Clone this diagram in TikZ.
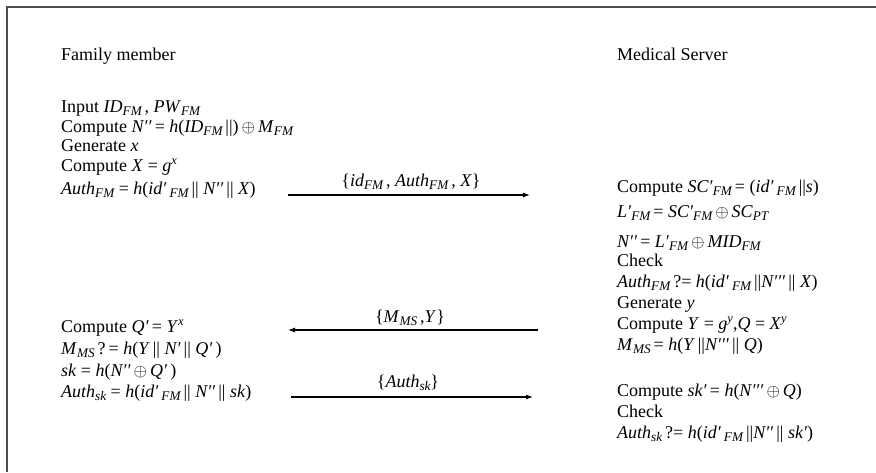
\documentclass[tikz,border=0pt]{standalone}
\usepackage{fontspec}
\setmainfont{Liberation Serif}
\usetikzlibrary{arrows.meta}
\newcommand{\iv}[1]{\textit{#1}}
\newcommand{\sbx}[1]{\raisebox{-3.8pt}{\fontsize{13.2}{13}\selectfont\itshape #1}}
\newcommand{\spx}[1]{\raisebox{7pt}{\fontsize{12.5}{12}\selectfont\itshape #1}}
\newcommand{\xo}{\,$\oplus$\,}
\newcommand{\pr}{′}
\tikzset{
  txt/.style={anchor=base west, inner sep=0pt, font=\fontsize{18}{21}\selectfont},
  lbl/.style={anchor=base, inner sep=0pt, font=\fontsize{18}{21}\selectfont},
  msg/.style={line width=1.1pt, -{Latex[length=7pt,width=5pt]}},
  frame/.style={black!70, line width=1.5pt}
}
\begin{document}
\begin{tikzpicture}[x=1pt,y=-1pt]
\useasboundingbox (0,0) rectangle (876,472);
\draw[frame] (7,472) -- (7,7) -- (876,7);
% left column
\node[txt] (fm) at (61,60) {Family member};
\node[txt] (l1) at (61,112) {Input \iv{ID}\sbx{FM}\,, \iv{PW}\sbx{FM}};
\node[txt] (l2) at (61,132) {Compute \iv{N\pr\pr}\,= \iv{h}(\iv{ID}\sbx{FM}\,||)\xo\iv{M}\sbx{FM}};
\node[txt] (l3) at (61,151) {Generate \iv{x}};
\node[txt] (l4) at (61,171) {Compute \iv{X} = \iv{g}\spx{x}};
\node[txt] (l5) at (61,194) {\iv{Auth}\sbx{FM} = \iv{h}(\iv{id\pr}\,\sbx{FM}\,||~\iv{N\pr\pr}\,||~\iv{X})};
\node[txt] (l6) at (61,332) {Compute \iv{Q\pr}\,= \iv{Y}\spx{x}};
\node[txt] (l7) at (61,354) {\iv{M}\sbx{MS}\,?\,= \iv{h}(\iv{Y}\,||~\iv{N\pr}\,||~\iv{Q\pr}\,)};
\node[txt] (l8) at (61,376) {\iv{sk} = \iv{h}(\iv{N\pr\pr}\xo\iv{Q\pr}\,)};
\node[txt] (l9) at (61,397) {\iv{Auth}\sbx{sk} = \iv{h}(\iv{id\pr}\,\sbx{FM}\,||~\iv{N\pr\pr}\,||~\iv{sk})};
% right column
\node[txt] (ms) at (617,60) {Medical Server};
\node[txt] (r1) at (617,192) {Compute \iv{SC\pr}\sbx{FM}\,= (\iv{id\pr}\,\sbx{FM}\,||\iv{s})};
\node[txt] (r2) at (617,217) {\iv{L\pr}\sbx{FM}\,= \iv{SC\pr}\sbx{FM}\xo\iv{SC}\sbx{PT}};
\node[txt] (r3) at (617,247) {\iv{N\pr\pr}\,= \iv{L\pr}\sbx{FM}\xo\iv{MID}\sbx{FM}};
\node[txt] (r4) at (617,266) {Check};
\node[txt] (r5) at (617,287) {\iv{Auth}\sbx{FM}\,?= \iv{h}(\iv{id\pr}\,\sbx{FM}\,||\iv{N\pr\pr\pr}\,||~\iv{X})};
\node[txt] (r6) at (617,308) {Generate \iv{y}};
\node[txt] (r7) at (617,329) {Compute \iv{Y} = \iv{g}\spx{y},\iv{Q} = \iv{X}\spx{y}};
\node[txt] (r8) at (617,350) {\iv{M}\sbx{MS}\,= \iv{h}(\iv{Y}\,||\iv{N\pr\pr\pr}\,||~\iv{Q})};
\node[txt] (r9) at (617,396) {Compute \iv{sk\pr}\,= \iv{h}(\iv{N\pr\pr\pr}\xo\iv{Q})};
\node[txt] (r10) at (617,417) {Check};
\node[txt] (r11) at (617,438) {\iv{Auth}\sbx{sk}\,?= \iv{h}(\iv{id\pr}\,\sbx{FM}\,||\iv{N\pr\pr}\,||~\iv{sk\pr})};
% messages
\coordinate (a1s) at (288,195); \coordinate (a1e) at (530,195);
\coordinate (a2s) at (538,330); \coordinate (a2e) at (288,330);
\coordinate (a3s) at (291,397); \coordinate (a3e) at (533,397);
\draw[msg] (a1s) -- (a1e);
\draw[msg] (a2s) -- (a2e);
\draw[msg] (a3s) -- (a3e);
\node[lbl] (m1) at (411,186) {\{\iv{id}\sbx{FM}\,, \iv{Auth}\sbx{FM}\,, \iv{X}\}};
\node[lbl] (m2) at (410,322) {\{\iv{M}\sbx{MS}\,,\iv{Y}\}};
\node[lbl] (m3) at (408,387) {\{\iv{Auth}\sbx{sk}\}};
\end{tikzpicture}
\end{document}
